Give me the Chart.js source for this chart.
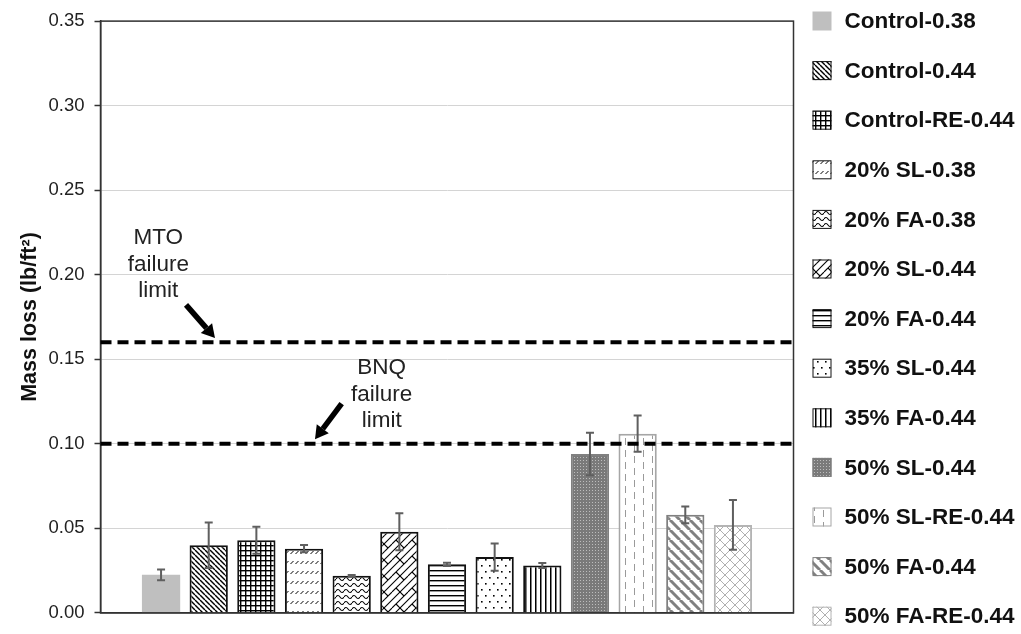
<!DOCTYPE html>
<html>
<head>
<meta charset="utf-8">
<script src="https://cdn.jsdelivr.net/npm/chart.js@4.4.1/dist/chart.umd.min.js"></script>
<style>
  body { margin: 0; background: #fff; }
  canvas { display: block; }
</style>
</head>
<body>
<canvas id="massChart" width="1021" height="634"></canvas>
<script>
const categories = [''];
const seriesNames = [
	'Control-0.38', 'Control-0.44', 'Control-RE-0.44', '20% SL-0.38', '20% FA-0.38',
	'20% SL-0.44', '20% FA-0.44', '35% SL-0.44', '35% FA-0.44', '50% SL-0.44',
	'50% SL-RE-0.44', '50% FA-0.44', '50% FA-RE-0.44',
];
const massLoss = [0.0225, 0.040, 0.043, 0.038, 0.022, 0.048, 0.0287, 0.033, 0.028, 0.094, 0.106, 0.058, 0.052];
const errorBars = [0.0032, 0.0135, 0.008, 0.0022, 0.0004, 0.011, 0.001, 0.008, 0.0015, 0.0126, 0.0107, 0.005, 0.0147];
const yTicks = [0, 0.05, 0.10, 0.15, 0.20, 0.25, 0.30, 0.35];
const limitNames = ['MTO', 'BNQ'];
const limitValues = [0.16, 0.10];

const FONT = "'Liberation Sans', Arial, sans-serif";
Chart.defaults.font.family = FONT;

// pattern tiles
const tile = (w, h, bg, draw) => {
	const c = document.createElement('canvas');
	c.width = w;
	c.height = h;
	const g = c.getContext('2d');
	if (bg) {
		g.fillStyle = bg;
		g.fillRect(0, 0, w, h);
	}
	draw(g, w, h);
	return g.createPattern(c, 'repeat');
};
const diag = (g, size, dir) => {
	for (let k = -size; k <= size; k += size) {
		g.beginPath();
		if (dir > 0) {
			g.moveTo(k, 0);
			g.lineTo(k + size, size);
		} else {
			g.moveTo(k, size);
			g.lineTo(k + size, 0);
		}
		g.stroke();
	}
};

const patterns = [
	'#bfbfbf',
	tile(5, 5, '#fff', (g) => { g.strokeStyle = '#000'; g.lineWidth = 1.4; diag(g, 5, 1); }),
	tile(5, 5, '#fff', (g) => { g.fillStyle = '#000'; g.fillRect(0, 0, 5, 1.4); g.fillRect(0, 0, 1.4, 5); }),
	tile(5, 10, '#fff', (g) => {
		g.strokeStyle = '#000'; g.lineWidth = 1;
		g.beginPath(); g.moveTo(0.5, 4); g.lineTo(3.5, 1); g.stroke();
	}),
	tile(8, 6, '#fff', (g) => {
		g.strokeStyle = '#000'; g.lineWidth = 1.1;
		g.beginPath(); g.moveTo(0, 3); g.quadraticCurveTo(2, 0, 4, 3); g.quadraticCurveTo(6, 6, 8, 3); g.stroke();
	}),
	tile(16, 16, '#fff', (g) => {
		g.strokeStyle = '#000'; g.lineWidth = 1.1;
		for (const c of [0, 8, 16, 24, 32]) {
			g.beginPath(); g.moveTo(c, 0); g.lineTo(c - 16, 16); g.stroke();
		}
		for (const dx of [-16, 0, 16]) {
			for (const dy of [-16, 0, 16]) {
				g.beginPath(); g.moveTo(dx, dy); g.lineTo(dx + 4, dy + 4); g.stroke();
				g.beginPath(); g.moveTo(dx + 12, dy + 12); g.lineTo(dx + 16, dy + 16); g.stroke();
			}
		}
	}),
	tile(5, 5, '#fff', (g) => { g.fillStyle = '#000'; g.fillRect(0, 0, 5, 1.4); }),
	tile(8, 12, '#fff', (g) => { g.fillStyle = '#000'; g.fillRect(1, 1, 1.6, 1.6); g.fillRect(5, 7, 1.6, 1.6); }),
	tile(5, 5, '#fff', (g) => { g.fillStyle = '#000'; g.fillRect(0, 0, 1.5, 5); }),
	tile(3, 3, '#7a7a7a', (g) => { g.fillStyle = '#bdbdbd'; g.fillRect(1, 1, 1, 1); }),
	tile(18, 12, '#fff', (g) => {
		g.strokeStyle = '#9a9a9a'; g.lineWidth = 1;
		g.beginPath(); g.moveTo(4.5, 0); g.lineTo(4.5, 7); g.stroke();
		g.beginPath(); g.moveTo(13.5, 6); g.lineTo(13.5, 12); g.stroke();
		g.beginPath(); g.moveTo(13.5, 0); g.lineTo(13.5, 1); g.stroke();
	}),
	tile(10, 10, '#fff', (g) => { g.strokeStyle = '#808080'; g.lineWidth = 3; diag(g, 10, 1); }),
	tile(10, 10, '#fff', (g) => { g.strokeStyle = '#b0b0b0'; g.lineWidth = 1; diag(g, 10, 1); diag(g, 10, -1); }),
];
const borders = ['#bfbfbf', '#111', '#111', '#111', '#111', '#111', '#111', '#111', '#111',
	'#808080', '#a6a6a6', '#808080', '#b4b4b4'];

const datasets = seriesNames.map((name, i) => ({
	label: name,
	data: [massLoss[i]],
	errors: [errorBars[i]],
	backgroundColor: patterns[i],
	borderColor: borders[i],
	borderWidth: i === 0 ? 0 : 2,
	categoryPercentage: 0.894,
	barPercentage: 0.803,
}));

const errorBarPlugin = {
	id: 'errorBars',
	afterDatasetsDraw(chart) {
		const { ctx, chartArea: ca, scales: { y } } = chart;
		ctx.save();
		ctx.strokeStyle = '#5f5f5f';
		ctx.lineWidth = 2;
		chart.data.datasets.forEach((ds, i) => {
			const bar = chart.getDatasetMeta(i).data[0];
			const v = ds.data[0];
			const e = ds.errors[0];
			const top = y.getPixelForValue(v + e);
			const bot = y.getPixelForValue(v - e);
			ctx.beginPath();
			ctx.moveTo(bar.x, top); ctx.lineTo(bar.x, bot);
			ctx.moveTo(bar.x - 4, top); ctx.lineTo(bar.x + 4, top);
			ctx.moveTo(bar.x - 4, bot); ctx.lineTo(bar.x + 4, bot);
			ctx.stroke();
		});
		// plot frame
		ctx.strokeStyle = '#333';
		ctx.lineWidth = 1.5;
		ctx.strokeRect(ca.left, ca.top, ca.right - ca.left, ca.bottom - ca.top);
		// limit lines
		ctx.strokeStyle = '#000';
		ctx.lineWidth = 4;
		ctx.setLineDash([11, 6]);
		limitValues.forEach((v) => {
			const py = y.getPixelForValue(v);
			ctx.beginPath();
			ctx.moveTo(ca.left, py);
			ctx.lineTo(ca.right, py);
			ctx.stroke();
		});
		ctx.restore();
	},
};

// note text / arrows, x as fraction of plot width, y in data units
const notes = [
	{ lines: [limitNames[0], 'failure', 'limit'], xf: 0.0834, yv: 0.2218, from: [0.1234, 0.1822], to: [0.1652, 0.1626] },
	{ lines: [limitNames[1], 'failure', 'limit'], xf: 0.4058, yv: 0.1449, from: [0.348, 0.1238], to: [0.3095, 0.1027] },
];

const notesPlugin = {
	id: 'notes',
	afterDraw(chart) {
		const { ctx, chartArea: ca, scales: { y } } = chart;
		const px = (f) => ca.left + f * (ca.right - ca.left);
		ctx.save();
		ctx.fillStyle = '#222';
		ctx.font = '22.5px ' + FONT;
		ctx.textAlign = 'center';
		ctx.textBaseline = 'middle';
		notes.forEach((n) => {
			const x0 = px(n.xf);
			const y0 = y.getPixelForValue(n.yv);
			n.lines.forEach((t, k) => ctx.fillText(t, x0, y0 + k * 26.7));

			const x1 = px(n.from[0]), y1 = y.getPixelForValue(n.from[1]);
			const x2 = px(n.to[0]), y2 = y.getPixelForValue(n.to[1]);
			const a = Math.atan2(y2 - y1, x2 - x1);
			const hl = 13, hw = 7.5;
			const bx = x2 - hl * Math.cos(a), by = y2 - hl * Math.sin(a);
			ctx.strokeStyle = '#000';
			ctx.fillStyle = '#000';
			ctx.lineWidth = 5.5;
			ctx.beginPath();
			ctx.moveTo(x1, y1);
			ctx.lineTo(bx, by);
			ctx.stroke();
			ctx.beginPath();
			ctx.moveTo(x2, y2);
			ctx.lineTo(bx + hw * Math.sin(a), by - hw * Math.cos(a));
			ctx.lineTo(bx - hw * Math.sin(a), by + hw * Math.cos(a));
			ctx.closePath();
			ctx.fill();
			ctx.fillStyle = '#222';
		});

		// legend
		ctx.textAlign = 'left';
		ctx.font = 'bold 22.5px ' + FONT;
		chart.data.datasets.forEach((ds, i) => {
			const bx = ca.right + 19;
			const cy = 21 + i * 49.6;
			ctx.fillStyle = ds.backgroundColor;
			ctx.fillRect(bx, cy - 9.5, 19, 19);
			if (i > 0) {
				ctx.strokeStyle = ds.borderColor;
				ctx.lineWidth = 1;
				ctx.strokeRect(bx + 0.5, cy - 9, 18, 18);
			}
			ctx.fillStyle = '#111';
			ctx.fillText(ds.label, bx + 32, cy + 1);
		});
		ctx.restore();
	},
};

const massChart = new Chart(document.getElementById('massChart'), {
	type: 'bar',
	data: {
		labels: categories,
		datasets: datasets,
	},
	options: {
		responsive: false,
		animation: false,
		layout: {
			padding: { top: 15.7, right: 227.5, bottom: 10.7, left: 0.5 },
		},
		plugins: {
			legend: { display: false },
			tooltip: { enabled: false },
		},
		scales: {
			x: {
				grid: { display: false },
				ticks: { display: false },
				border: { color: '#333', width: 1.5 },
				afterFit: (s) => { s.height = 0; },
			},
			y: {
				min: yTicks[0],
				max: yTicks[yTicks.length - 1],
				afterBuildTicks: (s) => { s.ticks = yTicks.map((v) => ({ value: v })); },
				ticks: {
					callback: (v) => v.toFixed(2),
					font: { size: 18.5 },
					color: '#222',
					padding: 10,
				},
				grid: {
					color: '#d4d4d4',
					lineWidth: 1,
					tickColor: '#333',
					tickLength: 6,
					tickWidth: 1.5,
				},
				border: { color: '#333', width: 1.5 },
				title: {
					display: true,
					text: 'Mass loss (lb/ft²)',
					font: { size: 21.5, weight: 'bold' },
					color: '#111',
					padding: { top: 17, bottom: 0 },
				},
				afterFit: (s) => { s.width = 100; },
			},
		},
	},
	plugins: [errorBarPlugin, notesPlugin],
});
</script>
</body>
</html>
